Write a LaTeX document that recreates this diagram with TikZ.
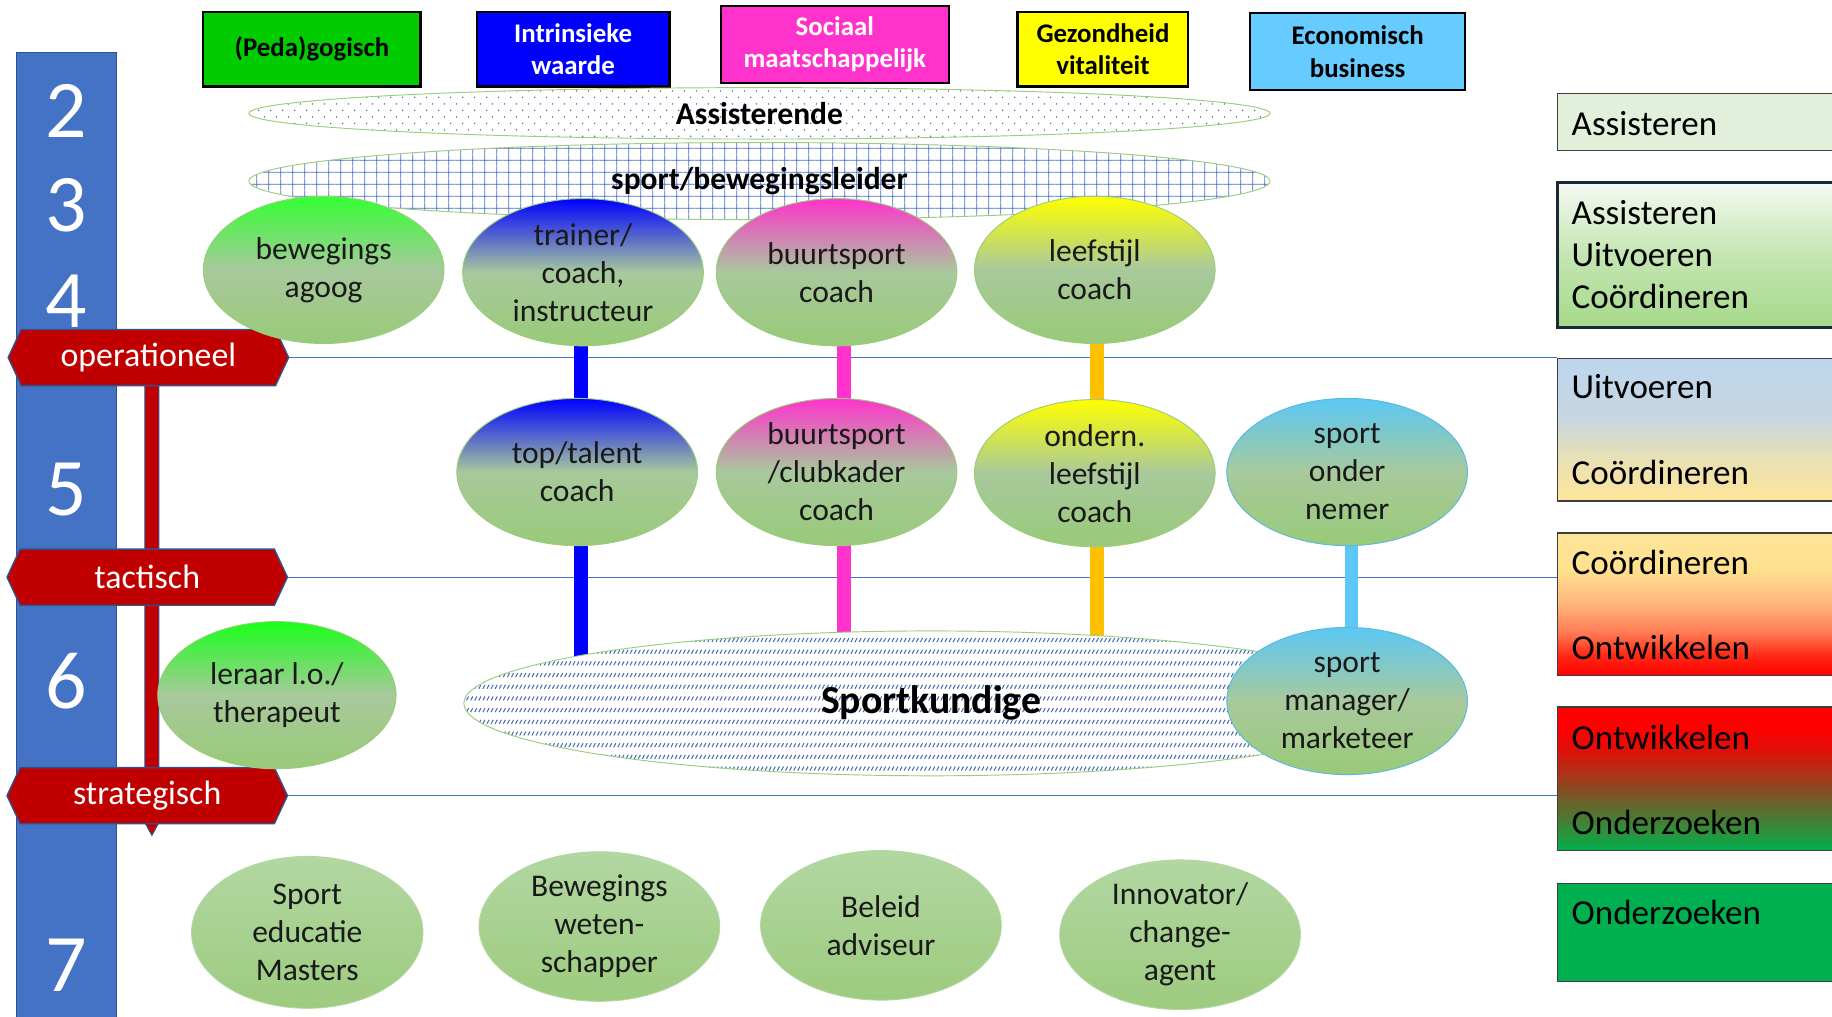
\documentclass[tikz,border=0pt]{standalone}
\usepackage{fontspec}
\setmainfont{Carlito}
\usetikzlibrary{shapes.geometric,shapes.symbols,patterns,patterns.meta}

\definecolor{lvlblue}{HTML}{4472C4}
\definecolor{olblue}{HTML}{2F528F}
\definecolor{lred}{HTML}{C00000}
\definecolor{cgreen}{HTML}{00CC00}
\definecolor{cblue}{HTML}{0000FF}
\definecolor{cmag}{HTML}{FF33CC}
\definecolor{cyel}{HTML}{FFFF00}
\definecolor{clblue}{HTML}{66CCFF}
\definecolor{cgold}{HTML}{FFC000}
\definecolor{cbarlb}{HTML}{5BC8F5}
\definecolor{gmid}{HTML}{A8C99C}
\definecolor{gbot}{HTML}{98CA78}
\definecolor{rimgreen}{HTML}{9ACD7C}
\definecolor{rimblue}{HTML}{5BB8E0}
\definecolor{dotc}{HTML}{4F6FB0}
\definecolor{gridc}{HTML}{426CC4}
\definecolor{hatchc}{HTML}{4A6FB5}
\definecolor{cb1}{HTML}{E2EFDA}
\definecolor{cb6}{HTML}{00B050}
\definecolor{rbord}{HTML}{3F3F3F}
\definecolor{rbordd}{HTML}{1C2A36}
\definecolor{lowtop}{HTML}{B2D7A2}
\definecolor{lowbot}{HTML}{9DCB7E}

\pgfdeclareverticalshading{shbtwo}{100bp}{rgb(0bp)=(0.65,0.85,0.54); rgb(25bp)=(0.65,0.85,0.54); rgb(50bp)=(0.77,0.9,0.7); rgb(75bp)=(0.96,0.98,0.95); rgb(100bp)=(0.96,0.98,0.95)}
\pgfdeclareverticalshading{shbthree}{100bp}{rgb(0bp)=(1,0.9,0.6); rgb(25bp)=(1,0.9,0.6); rgb(40bp)=(0.91,0.88,0.71); rgb(55bp)=(0.78,0.84,0.89); rgb(75bp)=(0.74,0.84,0.93); rgb(100bp)=(0.74,0.84,0.93)}
\pgfdeclareverticalshading{shbfour}{100bp}{rgb(0bp)=(1,0,0); rgb(25bp)=(1,0,0); rgb(32bp)=(1,0.16,0.08); rgb(40bp)=(1,0.48,0.33); rgb(50bp)=(1,0.71,0.49); rgb(62bp)=(1,0.88,0.56); rgb(75bp)=(1,0.9,0.6); rgb(100bp)=(1,0.9,0.6)}
\pgfdeclareverticalshading{shbfive}{100bp}{rgb(0bp)=(0,0.69,0.31); rgb(25bp)=(0,0.69,0.31); rgb(32bp)=(0.19,0.56,0.23); rgb(42bp)=(0.42,0.38,0.16); rgb(50bp)=(0.63,0.23,0.11); rgb(60bp)=(0.88,0.06,0.03); rgb(68bp)=(1,0,0); rgb(75bp)=(1,0,0); rgb(100bp)=(1,0,0)}

\tikzdeclarepattern{
  name=myslash,
  type=uncolored,
  bounding box={(-1pt,-1pt) and (5pt,11pt)},
  tile size={(3.5pt,10pt)},
  code={\draw[line width=0.9pt] (0.3pt,0.5pt) -- (2.1pt,3.9pt);}
}
\tikzdeclarepattern{
  name=mydots,
  type=uncolored,
  bounding box={(0pt,0pt) and (10.5pt,11.4pt)},
  tile size={(10.5pt,11.4pt)},
  code={\fill (1.5pt,1.5pt) circle (0.75pt); \fill (6.75pt,7.2pt) circle (0.75pt);}
}

\pgfdeclarelayer{back}
\pgfdeclarelayer{bg}
\pgfsetlayers{back,bg,main}

\tikzset{
  numtxt/.style={text=white, font=\fontsize{70}{70}\selectfont, inner sep=0pt},
  lvllabel/.style={signal, signal to=east and west, signal pointer angle=130, fill=lred, draw=olblue,
    line width=1.2pt, minimum width=240pt, minimum height=48pt, inner sep=0pt, text=white,
    font=\fontsize{29}{34}\selectfont},
  topbox/.style={rectangle, draw=black, line width=2pt, inner sep=0pt, minimum height=64pt, align=center,
    font=\fontsize{23}{28}\selectfont\bfseries},
  bigell/.style={ellipse, inner sep=0pt, draw=rimgreen, line width=0.8pt, preaction={fill=white},
    font=\fontsize{27}{32}\selectfont\bfseries},
  role/.style={ellipse, minimum width=206pt, minimum height=126pt, inner sep=0pt, align=center,
    font=\fontsize{27}{32.5}\selectfont, text=black!90, draw=rimgreen, line width=0.8pt},
  grad/.style={top color=#1, bottom color=gbot, middle color=gmid},
  lowrole/.style={role, top color=lowtop, bottom color=lowbot, draw=lowtop},
  rbox/.style={rectangle, minimum width=247pt, inner sep=0pt, draw=rbord, line width=1.3pt},
  rtxt/.style={anchor=west, inner sep=0pt, align=left, text=black, font=\fontsize{30}{36}\selectfont},
  hline/.style={draw=lvlblue, line width=1pt},
  vbar/.style={draw=#1, line width=12pt},
}

\begin{document}
\begin{tikzpicture}[x=1pt,y=-1pt]
\useasboundingbox (0,0) rectangle (1568,870);
\clip (0,0) rectangle (1568,870);
\begin{pgfonlayer}{back}
\fill[white] (0,0) rectangle (1568,870);
\end{pgfonlayer}

% level bar with numbers
\draw[fill=lvlblue, draw=olblue, line width=1pt] (14,45) rectangle (100,885);
\node[numtxt] (n2) at (57,95) {2};
\node[numtxt] (n3) at (57,176) {3};
\node[numtxt] (n4) at (57,258) {4};
\node[numtxt] (n5) at (57,419) {5};
\node[numtxt] (n6) at (57,583) {6};
\node[numtxt] (n7) at (57,826) {7};

% red vertical arrow
\draw[fill=lred, draw=olblue, line width=0.8pt] (124,310) -- (136,310) -- (136,704) -- (130,715) -- (124,704) -- cycle;

% level labels
\node[lvllabel] (oper) at (127,306) {operationeel};
\node[lvllabel] (tact) at (126,494) {tactisch};
\node[lvllabel] (strat) at (126,681) {strategisch};

% top category boxes
\node[topbox, fill=cgreen, minimum width=186pt] (peda) at (267,42) {(Peda)gogisch};
\node[topbox, fill=cblue, text=white, minimum width=165pt] (intr) at (490.5,42) {Intrinsieke\\waarde};
\node[topbox, fill=cmag, text=white, minimum width=195pt, minimum height=66pt] (soc) at (714.5,38) {Sociaal\\maatschappelijk};
\node[topbox, fill=cyel, minimum width=146pt] (gez) at (944,42) {Gezondheid\\vitaliteit};
\node[topbox, fill=clblue, minimum width=184pt, minimum height=66pt] (eco) at (1162,44) {Economisch\\business};

% large patterned ellipses
\node[bigell, minimum width=874pt, minimum height=44pt, pattern=mydots, pattern color=dotc] (assist) at (650,97) {Assisterende};
\node[bigell, minimum width=874pt, minimum height=66pt, pattern={Hatch[distance=10.5pt, angle=0, line width=0.8pt]}, pattern color=gridc] (leider) at (650,155) {sport/bewegingsleider};
\node[bigell, minimum width=800pt, minimum height=124pt, pattern=myslash, pattern color=hatchc, font=\fontsize{34}{40}\selectfont\bfseries] (sportk) at (797,602) {Sportkundige};

% level 3/4 roles
\node[role, grad=green!80!white] (agoog) at (277,231) {bewegings\\agoog};
\node[role, grad=cblue] (trainer) at (499,233) {trainer/\\coach,\\instructeur};
\node[role, grad=cmag] (buurt1) at (716,233) {buurtsport\\coach};
\node[role, grad=cyel] (leef1) at (937,231) {leefstijl\\coach};

% level 5 roles
\node[role, grad=cblue] (toptalent) at (494,404) {top/talent\\coach};
\node[role, grad=cmag] (buurt2) at (716,404) {buurtsport\\/clubkader\\coach};
\node[role, grad=cyel] (leef2) at (937,405) {ondern.\\leefstijl\\coach};
\node[role, grad=cbarlb, draw=rimblue] (onder) at (1153,404) {sport\\onder\\nemer};

% level 6 roles
\node[role, grad=green!90!white, minimum width=204pt] (leraar) at (237,595) {leraar l.o./\\therapeut};
\node[role, grad=cbarlb, draw=rimblue] (manager) at (1153,600) {sport\\manager/\\marketeer};

% level 7 roles
\node[lowrole, minimum width=198pt, minimum height=130pt] (masters) at (263,798) {Sport\\educatie\\Masters};
\node[lowrole, minimum height=128pt] (wetensch) at (513,793) {Bewegings\\weten-\\schapper};
\node[lowrole, minimum height=128pt] (beleid) at (754,792) {Beleid\\adviseur};
\node[lowrole, minimum height=128pt] (innov) at (1010,800) {Innovator/\\change-\\agent};

% right boxes
\node[rbox, fill=cb1, minimum height=49pt] (b1) at (1456.5,104.5) {};
\node[rbox, shading=shbtwo, draw=rbordd, line width=2.5pt, minimum height=124pt] (b2) at (1456.5,218) {};
\node[rbox, shading=shbthree, minimum height=122pt] (b3) at (1456.5,368) {};
\node[rbox, shading=shbfour, minimum height=122pt] (b4) at (1456.5,517) {};
\node[rbox, shading=shbfive, minimum height=123pt] (b5) at (1456.5,666.5) {};
\node[rbox, fill=cb6, minimum height=84pt] (b6) at (1456.5,798) {};

\node[rtxt] (t1) at (1345,106) {Assisteren};
\node[rtxt] (t2) at (1345,218) {Assisteren\\Uitvoeren\\Coördineren};
\node[rtxt] (t3a) at (1345,331) {Uitvoeren};
\node[rtxt] (t3b) at (1345,404) {Coördineren};
\node[rtxt] (t4a) at (1345,481) {Coördineren};
\node[rtxt] (t4b) at (1345,554) {Ontwikkelen};
\node[rtxt] (t5a) at (1345,631) {Ontwikkelen};
\node[rtxt] (t5b) at (1345,704) {Onderzoeken};
\node[rtxt] (t6) at (1345,781) {Onderzoeken};

% connectors
\begin{pgfonlayer}{bg}
\draw[hline] (oper.east) -- (oper.east -| b3.west);
\draw[hline] (tact.east) -- (tact.east -| b4.west);
\draw[hline] (strat.east) -- (strat.east -| b5.west);

\draw[vbar=cblue] ([xshift=-2pt]trainer.center) -- ([xshift=-2pt]trainer.center |- toptalent.center);
\draw[vbar=cblue] ([xshift=3pt]toptalent.center) -- ([xshift=3pt]toptalent.center |- sportk.center);
\draw[vbar=cmag] ([xshift=6pt]buurt1.center) -- ([xshift=6pt]buurt1.center |- buurt2.center);
\draw[vbar=cmag] ([xshift=6pt]buurt2.center) -- ([xshift=6pt]buurt2.center |- sportk.center);
\draw[vbar=cgold] ([xshift=2pt]leef1.center) -- ([xshift=2pt]leef1.center |- leef2.center);
\draw[vbar=cgold] ([xshift=2pt]leef2.center) -- ([xshift=2pt]leef2.center |- sportk.center);
\draw[vbar=cbarlb, line width=11pt] ([xshift=4pt]onder.center) -- ([xshift=4pt]onder.center |- manager.center);
\end{pgfonlayer}
\end{tikzpicture}
\end{document}
